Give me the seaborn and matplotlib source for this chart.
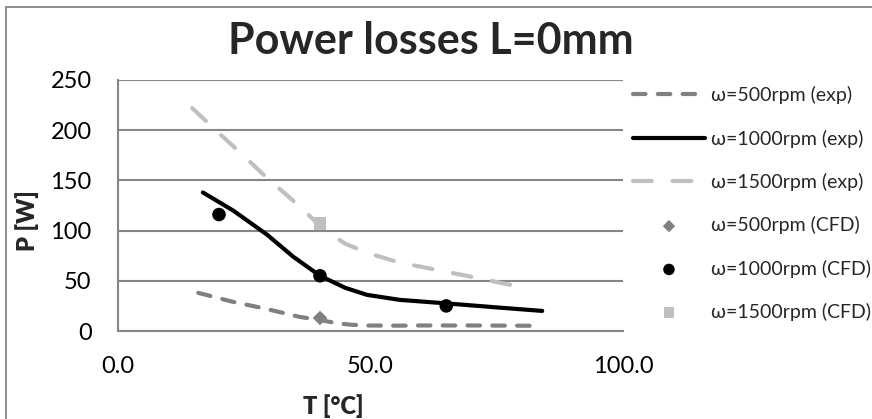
import numpy as np
import pandas as pd
import matplotlib
matplotlib.use("Agg")
import matplotlib.pyplot as plt
import seaborn as sns
from matplotlib.patches import Rectangle

# ---- data ----
t_500_exp = [15.9, 22.8, 29.4, 36, 40, 43, 46, 49, 55, 60, 70, 83.5]
p_500_exp = [38, 29, 22, 14, 11, 8, 6.3, 5.5, 5.3, 5.5, 5.5, 5.2]

t_1000_exp = [16.8, 22.8, 29.5, 34.7, 40, 45, 49.3, 55.8, 65, 75, 84]
p_1000_exp = [138, 120, 96, 74, 55, 43, 36, 31, 27.5, 23.5, 20]

t_1500_exp = [14.7, 20, 25, 29.4, 36, 41, 45, 49.3, 55.8, 60, 65, 70, 81.5]
p_1500_exp = [222, 197, 174, 153, 124, 100, 87, 78, 68, 64, 59, 54, 42]

t_500_cfd = [40]
p_500_cfd = [13]
t_1000_cfd = [20, 40, 65]
p_1000_cfd = [116, 55, 25]
t_1500_cfd = [40]
p_1500_cfd = [107]

labels = ["ω=500rpm (exp)", "ω=1000rpm (exp)", "ω=1500rpm (exp)",
          "ω=500rpm (CFD)", "ω=1000rpm (CFD)", "ω=1500rpm (CFD)"]
title = "Power losses L=0mm"
xlabel = "T [°C]"
ylabel = "P [W]"
xticks = [0, 50, 100]
xticklabels = ["0.0", "50.0", "100.0"]
yticks = [0, 50, 100, 150, 200, 250]

sns.set_theme(style="white")
FONT = ["Lato", "DejaVu Sans"]
plt.rcParams["font.family"] = FONT

W, H = 872, 419
fig = plt.figure(figsize=(W / 100, H / 100), dpi=100)
L, R, T, B = 118, 623, 80, 331
ax = fig.add_axes([L / W, 1 - B / H, (R - L) / W, (B - T) / H])

GRID = "#868686"
C500 = "#808080"
C1500 = "#BFBFBF"
LW = 3.0

df5 = pd.DataFrame({"T": t_500_exp, "P": p_500_exp})
df10 = pd.DataFrame({"T": t_1000_exp, "P": p_1000_exp})
df15 = pd.DataFrame({"T": t_1500_exp, "P": p_1500_exp})

sns.lineplot(data=df5, x="T", y="P", ax=ax, color=C500, lw=LW, label=labels[0],
             linestyle=(0, (3.0, 2.95)), dash_capstyle="round",
             dash_joinstyle="round", sort=False)
sns.lineplot(data=df10, x="T", y="P", ax=ax, color="black", lw=LW, label=labels[1],
             solid_capstyle="round", solid_joinstyle="round", sort=False)
sns.lineplot(data=df15, x="T", y="P", ax=ax, color=C1500, lw=LW, label=labels[2],
             linestyle=(0, (4.5, 5.0)), dash_capstyle="round",
             dash_joinstyle="round", sort=False)

sns.scatterplot(x=t_500_cfd, y=p_500_cfd, ax=ax, marker="D", s=55, color=C500,
                edgecolor="none", label=labels[3], zorder=5)
sns.scatterplot(x=t_1000_cfd, y=p_1000_cfd, ax=ax, marker="o", s=95, color="black",
                edgecolor="none", label=labels[4], zorder=5)
sns.scatterplot(x=t_1500_cfd, y=p_1500_cfd, ax=ax, marker="s", s=80, color=C1500,
                edgecolor="none", label=labels[5], zorder=5)

ax.set_xlim(0, 100)
ax.set_ylim(0, 250)
ax.set_xticks(xticks)
ax.set_xticklabels(xticklabels)
ax.set_yticks(yticks)
ax.grid(axis="y", color=GRID, lw=1.5)
ax.grid(axis="x", visible=False)
ax.set_axisbelow(True)
for s in ["top", "right"]:
    ax.spines[s].set_visible(False)
for s in ["left", "bottom"]:
    ax.spines[s].set_color(GRID)
    ax.spines[s].set_linewidth(1.5)
ax.tick_params(axis="y", length=0, pad=19, labelsize=17, colors="black")
ax.tick_params(axis="x", length=0, pad=18, labelsize=17, colors="black")
ax.set_xlabel("")
ax.set_ylabel("")

fig.text(333 / W, 1 - 406 / H, xlabel, ha="center", va="center",
         fontsize=17, fontweight="heavy", family=FONT)
fig.text(27 / W, 1 - 221 / H, ylabel, ha="center", va="center", rotation=90,
         fontsize=17, fontweight="heavy", family=FONT)
fig.text(431 / W, 1 - 41 / H, title, ha="center", va="center",
         fontsize=31, fontweight="bold", family=FONT)

handles, labs = ax.get_legend_handles_labels()
leg = ax.legend(handles, labs, loc="center left",
                bbox_to_anchor=(633 / W, 1 - 203.5 / H),
                bbox_transform=fig.transFigure, frameon=False,
                fontsize=14, handlelength=3.7, handletextpad=0.3,
                labelspacing=1.3, borderpad=0, borderaxespad=0,
                markerscale=0.85)

fig.patches.append(Rectangle((5.5 / W, -0.05), 1.2, (H - 7.5) / H + 0.05,
                             transform=fig.transFigure, fill=False,
                             edgecolor=GRID, lw=1.3))

fig.savefig("out.png", dpi=100, facecolor="white")
